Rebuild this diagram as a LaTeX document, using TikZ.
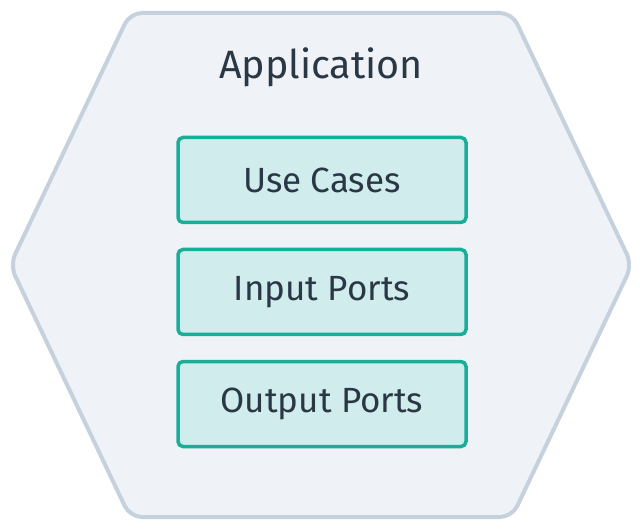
\documentclass[tikz,border=0pt]{standalone}
\usepackage{fontspec}
\setmainfont{Fira Sans}
\tikzstyle{port-box}=[rectangle, rounded corners=5pt, draw={PortBorder}, line width=3.5pt, fill={PortFill}, minimum width=288pt, minimum height=85pt, text={TextDark}, font=\fontsize{35}{40}\selectfont]
\definecolor{HexFill}{HTML}{eff3f7}
\definecolor{HexBorder}{HTML}{c5d1dc}
\definecolor{PortFill}{HTML}{d0ecec}
\definecolor{PortBorder}{HTML}{1aae9a}
\definecolor{TextDark}{HTML}{2a3745}

\begin{document}
\begin{tikzpicture}[x=1pt, y=-1pt]
      \useasboundingbox (0,0) rectangle (640,529);
      \draw[line width=4pt, draw={HexBorder}, fill={HexFill}, rounded corners=12pt] (130,13) -- (512,13) -- (632,265) -- (512,517) -- (130,517) -- (10,265) -- cycle;
      \node (app:title) at (321,67) [text={TextDark}, font=\fontsize{39.5}{45}\selectfont] {Application};

      \node (app:usecases) at (322,180) [port-box] {Use Cases};
      \node (app:input) at (322,292) [port-box] {Input Ports};
      \node (app:output) at (322,404) [port-box] {Output Ports};
    \end{tikzpicture}
\end{document}
